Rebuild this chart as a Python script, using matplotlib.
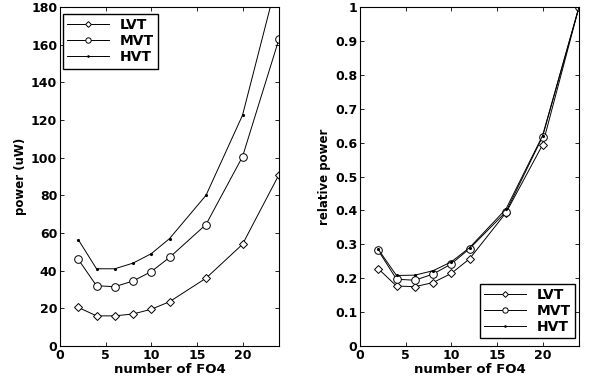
import matplotlib
matplotlib.use("Agg")
import matplotlib.pyplot as plt

plt.rcParams['font.family'] = ['DejaVu Sans']
plt.rcParams['font.weight'] = 'bold'

fo4 = [2, 4, 6, 8, 10, 12, 16, 20, 24]
series_names = ["LVT", "MVT", "HVT"]

power_lvt = [20.5, 16, 16, 17, 19.5, 23.5, 36, 54, 91]
power_mvt = [46, 32, 31.5, 34.5, 39.5, 47, 64.5, 100.5, 163]
power_hvt = [56.5, 41, 41, 44, 49, 57, 80, 122.5, 198]

rel_lvt = [0.228, 0.177, 0.175, 0.187, 0.214, 0.257, 0.393, 0.593, 1.0]
rel_mvt = [0.282, 0.197, 0.194, 0.212, 0.242, 0.287, 0.396, 0.617, 1.0]
rel_hvt = [0.285, 0.208, 0.209, 0.222, 0.248, 0.290, 0.404, 0.620, 1.0]

x_ticks = [0, 5, 10, 15, 20]
left_yticks = [0, 20, 40, 60, 80, 100, 120, 140, 160, 180]
right_yticks = [0, 0.1, 0.2, 0.3, 0.4, 0.5, 0.6, 0.7, 0.8, 0.9, 1]
right_yticklabels = ["0", "0.1", "0.2", "0.3", "0.4", "0.5", "0.6", "0.7", "0.8", "0.9", "1"]

W, H = 592, 383
fig = plt.figure(figsize=(W/100, H/100), dpi=100)
ax_w, ax_h = 219, 339
ax1 = fig.add_axes([60/W, 1-346/H, ax_w/W, ax_h/H])
ax2 = fig.add_axes([360/W, 1-346/H, ax_w/W, ax_h/H])

styles = [
    dict(marker='D', markersize=4.2, markerfacecolor='white', markeredgecolor='black', markeredgewidth=0.7),
    dict(marker='o', markersize=5.5, markerfacecolor='white', markeredgecolor='black', markeredgewidth=0.7),
    dict(marker='.', markersize=2.5, markerfacecolor='black', markeredgecolor='black'),
]

for ax, data in ((ax1, [power_lvt, power_mvt, power_hvt]), (ax2, [rel_lvt, rel_mvt, rel_hvt])):
    for name, ys, st in zip(series_names, data, styles):
        ax.plot(fo4, ys, color='black', linewidth=0.7, label=name, **st)
    ax.set_xlim(0, 24)
    ax.set_xticks(x_ticks)
    ax.tick_params(direction='in', top=True, right=True, length=3, width=0.6,
                   labelsize=9, pad=2)
    for s in ax.spines.values():
        s.set_linewidth(0.8)
    ax.set_xlabel("number of FO4", fontsize=9.5, fontweight='bold', labelpad=1)

ax1.set_ylim(0, 180)
ax1.set_yticks(left_yticks)
ax1.set_ylabel("power (uW)", fontsize=8.5, fontweight='bold', labelpad=3)
ax2.set_ylim(0, 1)
ax2.set_yticks(right_yticks)
ax2.set_yticklabels(right_yticklabels)
ax2.set_ylabel("relative power", fontsize=8.5, fontweight='bold', labelpad=3)

leg_kw = dict(fancybox=False, framealpha=1, edgecolor='black',
              prop={'weight': 'bold', 'size': 10}, handlelength=3.0,
              borderpad=0.3, labelspacing=0.15, handletextpad=0.8,
              borderaxespad=0, markerscale=0.7)
leg1 = ax1.legend(loc='upper left', bbox_to_anchor=(3/ax_w, 1-7/ax_h), **leg_kw)
leg2 = ax2.legend(loc='lower right', bbox_to_anchor=(1-4/ax_w, 8/ax_h), **leg_kw)
for leg in (leg1, leg2):
    leg.get_frame().set_linewidth(1.0)

fig.savefig("out.png", dpi=100)
